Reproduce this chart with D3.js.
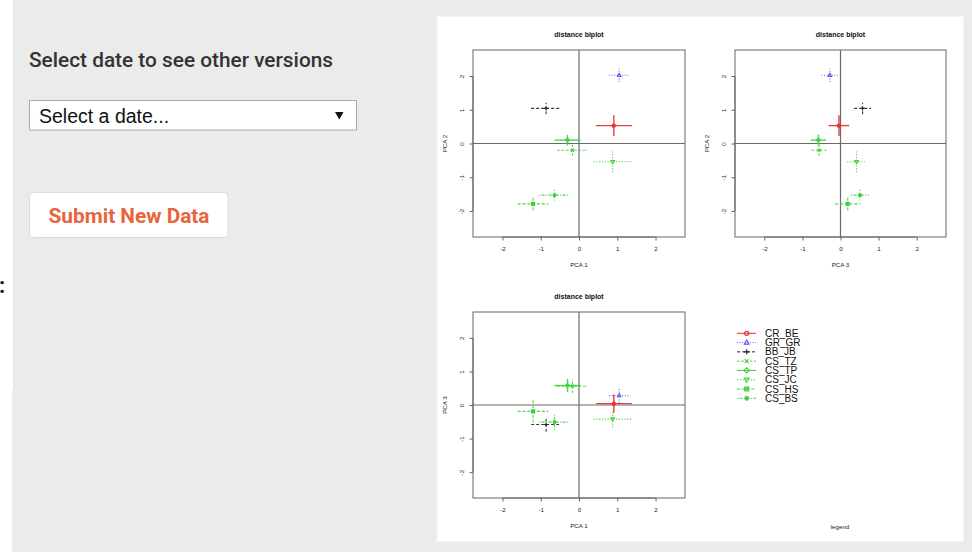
<!DOCTYPE html>
<html><head><meta charset="utf-8">
<script src="https://cdn.jsdelivr.net/npm/d3@7"></script>
<style>
html,body{margin:0;padding:0;background:#ebebeb;}
svg{display:block;}
</style></head>
<body>
<script>
// ---- data ----
const series = ["CR_BE","GR_GR","BB_JB","CS_TZ","CS_TP","CS_JC","CS_HS","CS_BS"];
const pc1 = [0.91, 1.05, -0.86, -0.17, -0.30, 0.88, -1.20, -0.64];
const pc2 = [0.53, 2.02, 1.04, -0.20, 0.10, -0.54, -1.79, -1.53];
const pc3 = [0.04, 0.28, -0.58, 0.56, 0.58, -0.42, -0.19, -0.51];
const err1 = [0.47, 0.26, 0.39, 0.40, 0.34, 0.50, 0.40, 0.40];
const err2 = [0.31, 0.20, 0.17, 0.16, 0.16, 0.31, 0.19, 0.16];
const err3 = [0.27, 0.22, 0.22, 0.20, 0.20, 0.25, 0.33, 0.23];
const tickValues = [-2, -1, 0, 1, 2];
const tickLabels = ["-2", "-1", "0", "1", "2"];
const axisDomain = [-2.77, 2.77];

// ---- styles ----
const colors = ["#e52a2a","#5a5af0","#222222","#3ccf3c","#3ccf3c","#3ccf3c","#3ccf3c","#3ccf3c"];
const dashes = [null,"1,1.6","3,2","2.5,1.8",null,"1.2,1.6","3,1.8","1,1.5,3,1.5"];
const shapes = ["circle","triangle","plus","cross","diamond","triDown","squareX","asterisk"];

const W = 972, H = 552;
const svg = d3.select("body").append("svg").attr("width", W).attr("height", H);
const fmt = d => tickLabels[tickValues.indexOf(d)];

// page background
svg.append("rect").attr("x",0).attr("y",0).attr("width",W).attr("height",H).attr("fill","#ebebeb");
svg.append("rect").attr("x",0).attr("y",0).attr("width",13).attr("height",390).attr("fill","#ffffff");
svg.append("rect").attr("x",0).attr("y",390).attr("width",12).attr("height",H-390).attr("fill","#ffffff");
svg.append("text").attr("x",-1).attr("y",293).attr("font-family","Roboto, sans-serif")
  .attr("font-size",22).attr("font-weight",700).attr("fill","#111").text(":");

// left controls
svg.append("text").attr("x",29).attr("y",66.5).attr("font-family","Roboto, sans-serif")
  .attr("font-size",19.5).attr("font-weight",500).attr("fill","#333")
  .attr("textLength",304).attr("lengthAdjust","spacingAndGlyphs")
  .text("Select date to see other versions");
svg.append("rect").attr("x",29.5).attr("y",100.5).attr("width",327).attr("height",29.5)
  .attr("fill","#fff").attr("stroke","#aaa").attr("stroke-width",1);
svg.append("text").attr("x",39).attr("y",122.5).attr("font-family","'Liberation Sans', Arial, sans-serif")
  .attr("font-size",19.5).attr("fill","#111").text("Select a date...");
svg.append("path").attr("d","M335,112 L343.5,112 L339.25,119.5 Z").attr("fill","#111");
svg.append("rect").attr("x",29.5).attr("y",192.5).attr("width",198.5).attr("height",45)
  .attr("rx",4).attr("fill","#fff").attr("stroke","#dcdcdc").attr("stroke-width",1);
svg.append("text").attr("x",48.5).attr("y",222.5)
  .attr("font-family","Roboto, sans-serif").attr("font-size",19.5).attr("font-weight",700)
  .attr("textLength",161).attr("lengthAdjust","spacingAndGlyphs")
  .attr("fill","#e8643c").text("Submit New Data");

// white plot panel
svg.append("rect").attr("x",436).attr("y",16).attr("width",528).attr("height",526).attr("fill","#f4f4f4");
svg.append("rect").attr("x",438).attr("y",17).attr("width",525).attr("height",524).attr("fill","#ffffff");

// marker drawing
function marker(g, shape, cx, cy, s, col) {
  const m = g.append("g").attr("transform",`translate(${cx},${cy})`)
    .attr("fill","none").attr("stroke",col).attr("stroke-width",1.1);
  if (shape==="circle") m.append("circle").attr("r",s*0.8);
  else if (shape==="triangle") m.append("path").attr("d",`M0,${-s} L${s*0.9},${s*0.6} L${-s*0.9},${s*0.6} Z`);
  else if (shape==="triDown") m.append("path").attr("d",`M0,${s} L${s*0.9},${-s*0.6} L${-s*0.9},${-s*0.6} Z`);
  else if (shape==="plus") m.append("path").attr("d",`M${-s},0 H${s} M0,${-s} V${s}`);
  else if (shape==="cross") m.append("path").attr("d",`M${-s*0.75},${-s*0.75} L${s*0.75},${s*0.75} M${-s*0.75},${s*0.75} L${s*0.75},${-s*0.75}`);
  else if (shape==="diamond") m.append("path").attr("d",`M0,${-s} L${s},0 L0,${s} L${-s},0 Z`);
  else if (shape==="squareX") m.append("path").attr("d",`M${-s*0.75},${-s*0.75} H${s*0.75} V${s*0.75} H${-s*0.75} Z M${-s*0.75},${-s*0.75} L${s*0.75},${s*0.75} M${-s*0.75},${s*0.75} L${s*0.75},${-s*0.75}`);
  else if (shape==="asterisk") m.append("path").attr("d",`M${-s},0 H${s} M0,${-s} V${s} M${-s*0.7},${-s*0.7} L${s*0.7},${s*0.7} M${-s*0.7},${s*0.7} L${s*0.7},${-s*0.7}`);
}

const dims = {pc1: pc1, pc2: pc2, pc3: pc3};
const errs = {pc1: err1, pc2: err2, pc3: err3};

function panel(cfg) {
  const {x0, x1, y0, y1, xKey, yKey, xSign, xLabel, yLabel} = cfg;
  const g = svg.append("g");
  const x = d3.scaleLinear().domain(axisDomain).range([x0, x1]);
  const y = d3.scaleLinear().domain(axisDomain).range([y1, y0]);
  // title
  g.append("text").attr("x",(x0+x1)/2).attr("y",y0-13.5).attr("text-anchor","middle")
    .attr("font-family","'Liberation Sans', Arial, sans-serif").attr("font-size",7)
    .attr("font-weight",700).attr("fill","#111").text("distance biplot");
  // zero lines
  g.append("line").attr("x1",x(0)).attr("x2",x(0)).attr("y1",y0).attr("y2",y1)
    .attr("stroke","#6a6a6a").attr("stroke-width",1.2);
  g.append("line").attr("x1",x0).attr("x2",x1).attr("y1",y(0)).attr("y2",y(0))
    .attr("stroke","#6a6a6a").attr("stroke-width",1.2);
  // axes
  const ax = g.append("g").attr("transform",`translate(0,${y1})`)
    .call(d3.axisBottom(x).tickValues(tickValues).tickFormat(fmt).tickSize(3.5).tickSizeOuter(0).tickPadding(6));
  ax.select(".domain").attr("d",`M${x(-2)},0H${x(2)}`);
  const ay = g.append("g").attr("transform",`translate(${x0},0)`)
    .call(d3.axisLeft(y).tickValues(tickValues).tickFormat(fmt).tickSize(3.5).tickSizeOuter(0));
  ay.select(".domain").attr("d",`M0,${y(-2)}V${y(2)}`);
  [ax, ay].forEach(a => {
    a.selectAll(".domain").attr("stroke","#666");
    a.selectAll(".tick line").attr("stroke","#666");
    a.selectAll("text").attr("font-family","'Liberation Sans', Arial, sans-serif")
      .attr("font-size",6.2).attr("fill","#222");
  });
  ay.selectAll(".tick text").attr("x",0).attr("dy","0.35em").attr("text-anchor","middle")
    .attr("transform","translate(-11.3,0) rotate(-90)");
  // box
  g.append("rect").attr("x",x0).attr("y",y0).attr("width",x1-x0).attr("height",y1-y0)
    .attr("fill","none").attr("stroke","#666").attr("stroke-width",1);
  // axis labels
  g.append("text").attr("x",(x0+x1)/2).attr("y",y1+30).attr("text-anchor","middle")
    .attr("font-family","'Liberation Sans', Arial, sans-serif").attr("font-size",6.2)
    .attr("fill","#222").text(xLabel);
  g.append("text").attr("transform",`translate(${x0-28},${(y0+y1)/2}) rotate(-90)`)
    .attr("text-anchor","middle").attr("dy","0.35em")
    .attr("font-family","'Liberation Sans', Arial, sans-serif").attr("font-size",6.2)
    .attr("fill","#222").text(yLabel);
  // error crosses
  const xs = dims[xKey], ys = dims[yKey], exs = errs[xKey], eys = errs[yKey];
  series.forEach((s, i) => {
    const cx = xSign*xs[i], cy = ys[i];
    const lg = g.append("g").attr("stroke",colors[i]).attr("stroke-width",i===0||i===4?1.4:1.1)
      .attr("stroke-opacity",0.9).attr("stroke-dasharray",dashes[i]);
    lg.append("line").attr("x1",x(cx-exs[i])).attr("x2",x(cx+exs[i])).attr("y1",y(cy)).attr("y2",y(cy));
    lg.append("line").attr("x1",x(cx)).attr("x2",x(cx)).attr("y1",y(cy-eys[i])).attr("y2",y(cy+eys[i]));
    marker(g, shapes[i], x(cx), y(cy), 2.0, colors[i]);
  });
}

panel({x0:473, x1:685, y0:50, y1:237, xKey:"pc1", yKey:"pc2", xSign:1, xLabel:"PCA 1", yLabel:"PCA 2"});
panel({x0:735, x1:946, y0:50, y1:237, xKey:"pc3", yKey:"pc2", xSign:-1, xLabel:"PCA 3", yLabel:"PCA 2"});
panel({x0:473, x1:685, y0:312, y1:498, xKey:"pc1", yKey:"pc3", xSign:1, xLabel:"PCA 1", yLabel:"PCA 3"});

// legend
const lgd = svg.append("g");
const ly = d3.scalePoint().domain(series).range([333.3, 398.3]);
series.forEach((s, i) => {
  const yy = ly(s);
  lgd.append("line").attr("x1",737).attr("x2",756).attr("y1",yy).attr("y2",yy)
    .attr("stroke",colors[i]).attr("stroke-width",1).attr("stroke-dasharray",dashes[i]);
  marker(lgd, shapes[i], 746.7, yy, 2.6, colors[i]);
  lgd.append("text").attr("x",765).attr("y",yy+3.6)
    .attr("font-family","'Liberation Sans', Arial, sans-serif").attr("font-size",10)
    .attr("fill","#111").text(s);
});
svg.append("text").attr("x",840).attr("y",528.5).attr("text-anchor","middle")
  .attr("font-family","'Liberation Sans', Arial, sans-serif").attr("font-size",6.2)
  .attr("fill","#222").text("legend");
</script>
</body></html>
